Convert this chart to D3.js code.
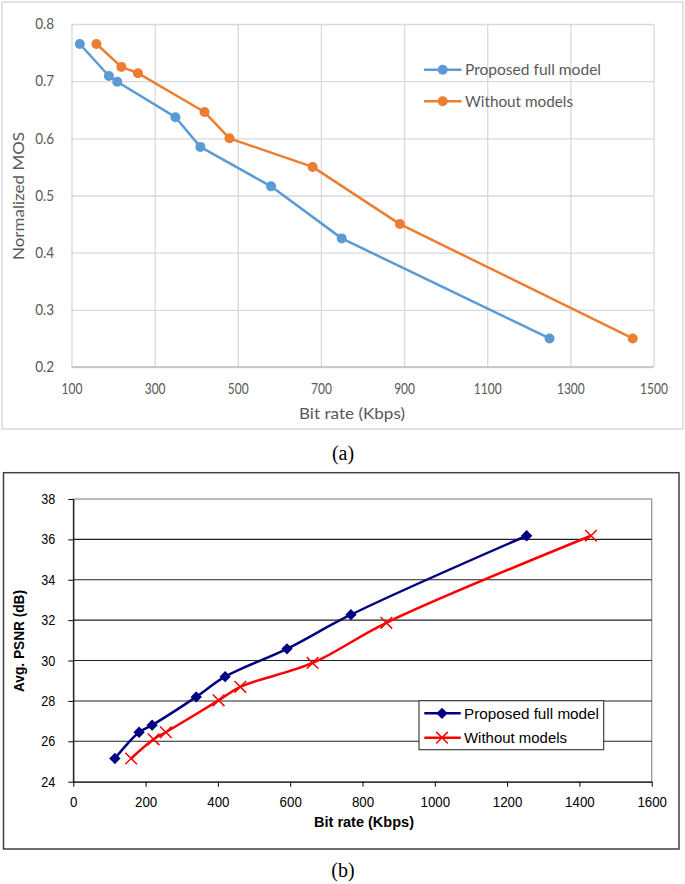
<!DOCTYPE html>
<html><head><meta charset="utf-8">
<script src="https://cdn.jsdelivr.net/npm/d3@7/dist/d3.min.js"></script>
<style>
html,body{margin:0;padding:0;background:#fff;}
svg{display:block;}
</style></head>
<body>
<svg id="chart" width="685" height="884"></svg>
<script>
// ---------- Data: (a) Normalized MOS ----------
const mosTicksX = [100, 300, 500, 700, 900, 1100, 1300, 1500];
const mosTicksY = [0.2, 0.3, 0.4, 0.5, 0.6, 0.7, 0.8];
const fullRateA = [120, 190, 210, 350, 410, 580, 750, 1250];
const fullMOS   = [0.765, 0.709, 0.699, 0.637, 0.585, 0.516, 0.425, 0.25];
const woRateA   = [160, 220, 260, 420, 480, 680, 890, 1450];
const woMOS     = [0.765, 0.725, 0.714, 0.646, 0.600, 0.550, 0.450, 0.25];

// ---------- Data: (b) Avg. PSNR ----------
const psnrTicksX = [0, 200, 400, 600, 800, 1000, 1200, 1400, 1600];
const psnrTicksY = [24, 26, 28, 30, 32, 34, 36, 38];
const fullRateB = [115, 182, 218, 340, 420, 591, 768, 1254];
const fullPSNR  = [25.15, 26.45, 26.8, 28.2, 29.2, 30.58, 32.27, 36.18];
const woRateB   = [160, 222, 256, 402, 462, 662, 866, 1432];
const woPSNR    = [25.15, 26.1, 26.45, 28.03, 28.7, 29.88, 31.87, 36.18];

const seriesNames = ["Proposed full model", "Without models"];

const svg = d3.select("#chart");

function fit(sel, w) {
  sel.attr("textLength", w).attr("lengthAdjust", "spacingAndGlyphs");
}
function squeeze(sel, f) {
  sel.each(function () {
    const L = this.getComputedTextLength();
    d3.select(this).attr("textLength", L * f).attr("lengthAdjust", "spacingAndGlyphs");
  });
}

// ================= Chart (a) =================
const A = svg.append("g");
A.append("rect").attr("x", 2).attr("y", 2).attr("width", 681).attr("height", 427)
  .attr("fill", "#fff").attr("stroke", "#d9d9d9").attr("stroke-width", 1.5);

const xA = d3.scaleLinear().domain([100, 1500]).range([71.5, 653.5]);
const yA = d3.scaleLinear().domain([0.2, 0.8]).range([367, 24]);
const fontA = "Lato, 'Open Sans', sans-serif";
const txtA = "#595959";

// vertical gridlines + x labels
const gxA = A.append("g").attr("transform", "translate(0,367)")
  .call(d3.axisBottom(xA).tickValues(mosTicksX).tickSize(-(367 - 24)).tickFormat(d3.format("d")));
gxA.select(".domain").remove();
gxA.selectAll("line").attr("stroke", "#d9d9d9").attr("stroke-width", 1.3);
gxA.selectAll("text").attr("y", 16.5).attr("fill", txtA)
  .style("font-family", fontA).style("font-size", "15px");
squeeze(gxA.selectAll("text"), 0.8);

// horizontal gridlines + y labels
const gyA = A.append("g").attr("transform", "translate(71.5,0)")
  .call(d3.axisLeft(yA).tickValues(mosTicksY).tickSize(-(653.5 - 71.5)).tickFormat(d3.format(".1f")));
gyA.select(".domain").remove();
gyA.selectAll("line").attr("stroke", "#d9d9d9").attr("stroke-width", 1.3);
gyA.selectAll("text").attr("x", -17.5).attr("fill", txtA)
  .style("font-family", fontA).style("font-size", "15px");
squeeze(gyA.selectAll("text"), 0.9);
// bottom axis line slightly darker
A.append("line").attr("x1", 71.5).attr("x2", 653.5).attr("y1", yA(0.2)).attr("y2", yA(0.2))
  .attr("stroke", "#bfbfbf").attr("stroke-width", 1.3);

// axis titles
A.append("text").attr("x", 352).attr("y", 418.5).attr("text-anchor", "middle")
  .attr("fill", txtA).style("font-family", fontA).style("font-size", "16px")
  .text("Bit rate (Kbps)").call(fit, 106);
A.append("text").attr("transform", "translate(24,196) rotate(-90)").attr("text-anchor", "middle")
  .attr("fill", txtA).style("font-family", fontA).style("font-size", "16px")
  .text("Normalized MOS").call(fit, 128);

const colorsA = ["#5b9bd5", "#ed7d31"];
const seriesA = [
  fullRateA.map((r, i) => [r, fullMOS[i]]),
  woRateA.map((r, i) => [r, woMOS[i]])
];
const lineA = d3.line().x(d => xA(d[0])).y(d => yA(d[1]));
seriesA.forEach((s, k) => {
  A.append("path").datum(s).attr("d", lineA).attr("fill", "none")
    .attr("stroke", colorsA[k]).attr("stroke-width", 2.5).attr("stroke-linejoin", "round");
  A.selectAll(null).data(s).enter().append("circle")
    .attr("cx", d => xA(d[0])).attr("cy", d => yA(d[1])).attr("r", 5)
    .attr("fill", colorsA[k]);
});

// legend (a)
const legA = A.append("g");
[69.7, 101.3].forEach((ly, k) => {
  legA.append("line").attr("x1", 424).attr("x2", 461.5).attr("y1", ly).attr("y2", ly)
    .attr("stroke", colorsA[k]).attr("stroke-width", 2.5);
  legA.append("circle").attr("cx", 442.7).attr("cy", ly).attr("r", 5).attr("fill", colorsA[k]);
  const t = legA.append("text").attr("x", 465).attr("y", ly + 5.5).attr("fill", txtA)
    .style("font-family", fontA).style("font-size", "16px").text(seriesNames[k]);
  fit(t, k === 0 ? 136 : 108);
});

// caption (a)
svg.append("text").attr("x", 343).attr("y", 459.5).attr("text-anchor", "middle")
  .style("font-family", "'Liberation Serif', 'Times New Roman', serif").style("font-size", "20px")
  .attr("fill", "#000").text("(a)");

// ================= Chart (b) =================
const B = svg.append("g");
B.append("rect").attr("x", 3.5).attr("y", 472.7).attr("width", 675.5).attr("height", 376.3)
  .attr("fill", "#fff").attr("stroke", "#404040").attr("stroke-width", 1.5);

const xB = d3.scaleLinear().domain([0, 1600]).range([73.3, 651.7]);
const yB = d3.scaleLinear().domain([24, 38]).range([781.7, 499]);
const fontB = "'Liberation Sans', Arial, sans-serif";

// plot area frame (top/right gray)
B.append("rect").attr("x", xB(0)).attr("y", yB(38)).attr("width", xB(1600) - xB(0))
  .attr("height", yB(24) - yB(38)).attr("fill", "none").attr("stroke", "#8c8c8c").attr("stroke-width", 1.2);

// gridlines
B.append("g").selectAll("line").data(psnrTicksY.filter(v => v > 24 && v < 38)).enter()
  .append("line").attr("x1", xB(0)).attr("x2", xB(1600))
  .attr("y1", d => yB(d)).attr("y2", d => yB(d))
  .attr("stroke", "#222").attr("stroke-width", 1.1);

// axes
const gxB = B.append("g").attr("transform", `translate(0,${yB(24)})`)
  .call(d3.axisBottom(xB).tickValues(psnrTicksX).tickSize(5).tickSizeOuter(0).tickFormat(d3.format("d")));
gxB.select(".domain").attr("stroke", "#000").attr("stroke-width", 1.1);
gxB.selectAll("line").attr("stroke", "#000");
gxB.selectAll("text").attr("y", 15).attr("fill", "#000")
  .style("font-family", fontB).style("font-size", "14px");
squeeze(gxB.selectAll("text"), 0.95);

const gyB = B.append("g").attr("transform", `translate(${xB(0)},0)`)
  .call(d3.axisLeft(yB).tickValues(psnrTicksY).tickSize(5).tickSizeOuter(0).tickFormat(d3.format("d")));
gyB.select(".domain").attr("stroke", "#000").attr("stroke-width", 1.1);
gyB.selectAll("line").attr("stroke", "#000");
gyB.selectAll("text").attr("x", -18).attr("fill", "#000")
  .style("font-family", fontB).style("font-size", "14px");
squeeze(gyB.selectAll("text"), 0.9);

// axis titles
B.append("text").attr("x", 364).attr("y", 826.5).attr("text-anchor", "middle")
  .style("font-family", fontB).style("font-size", "14px").style("font-weight", "bold")
  .attr("fill", "#000").text("Bit rate (Kbps)").call(fit, 100);
B.append("text").attr("transform", "translate(24,641) rotate(-90)").attr("text-anchor", "middle")
  .style("font-family", fontB).style("font-size", "14px").style("font-weight", "bold")
  .attr("fill", "#000").text("Avg. PSNR (dB)").call(fit, 102);

const colorsB = ["#000080", "#ff0000"];
const seriesB = [
  fullRateB.map((r, i) => [r, fullPSNR[i]]),
  woRateB.map((r, i) => [r, woPSNR[i]])
];
const lineB = d3.line().x(d => xB(d[0])).y(d => yB(d[1])).curve(d3.curveCatmullRom.alpha(0.5));
const diamond = d3.symbol(d3.symbolSquare, 64)();
const cross = d3.symbol(d3.symbolTimes || d3.symbolX, 90)();

seriesB.forEach((s, k) => {
  B.append("path").datum(s).attr("d", lineB).attr("fill", "none")
    .attr("stroke", colorsB[k]).attr("stroke-width", 2.5).attr("stroke-linejoin", "round");
  const m = B.selectAll(null).data(s).enter().append("path")
    .attr("transform", d => `translate(${xB(d[0])},${yB(d[1])})` + (k === 0 ? " rotate(45)" : ""));
  if (k === 0) m.attr("d", diamond).attr("fill", colorsB[0]);
  else m.attr("d", cross).attr("fill", "none").attr("stroke", colorsB[1]).attr("stroke-width", 1.5);
});

// legend (b)
const legB = B.append("g");
legB.append("rect").attr("x", 419).attr("y", 700.7).attr("width", 184.7).attr("height", 49)
  .attr("fill", "#fff").attr("stroke", "#333").attr("stroke-width", 1.1);
[713.3, 737.7].forEach((ly, k) => {
  legB.append("line").attr("x1", 424.3).attr("x2", 460.7).attr("y1", ly).attr("y2", ly)
    .attr("stroke", colorsB[k]).attr("stroke-width", 2.5);
  const mk = legB.append("path").attr("transform", `translate(442,${ly})` + (k === 0 ? " rotate(45)" : ""));
  if (k === 0) mk.attr("d", diamond).attr("fill", colorsB[0]);
  else mk.attr("d", cross).attr("fill", "none").attr("stroke", colorsB[1]).attr("stroke-width", 1.5);
  const t = legB.append("text").attr("x", 464).attr("y", ly + 5.5).attr("fill", "#000")
    .style("font-family", fontB).style("font-size", "15px").text(seriesNames[k]);
  fit(t, k === 0 ? 135 : 103);
});

// caption (b)
svg.append("text").attr("x", 343).attr("y", 876.5).attr("text-anchor", "middle")
  .style("font-family", "'Liberation Serif', 'Times New Roman', serif").style("font-size", "20px")
  .attr("fill", "#000").text("(b)");
</script>
</body></html>
